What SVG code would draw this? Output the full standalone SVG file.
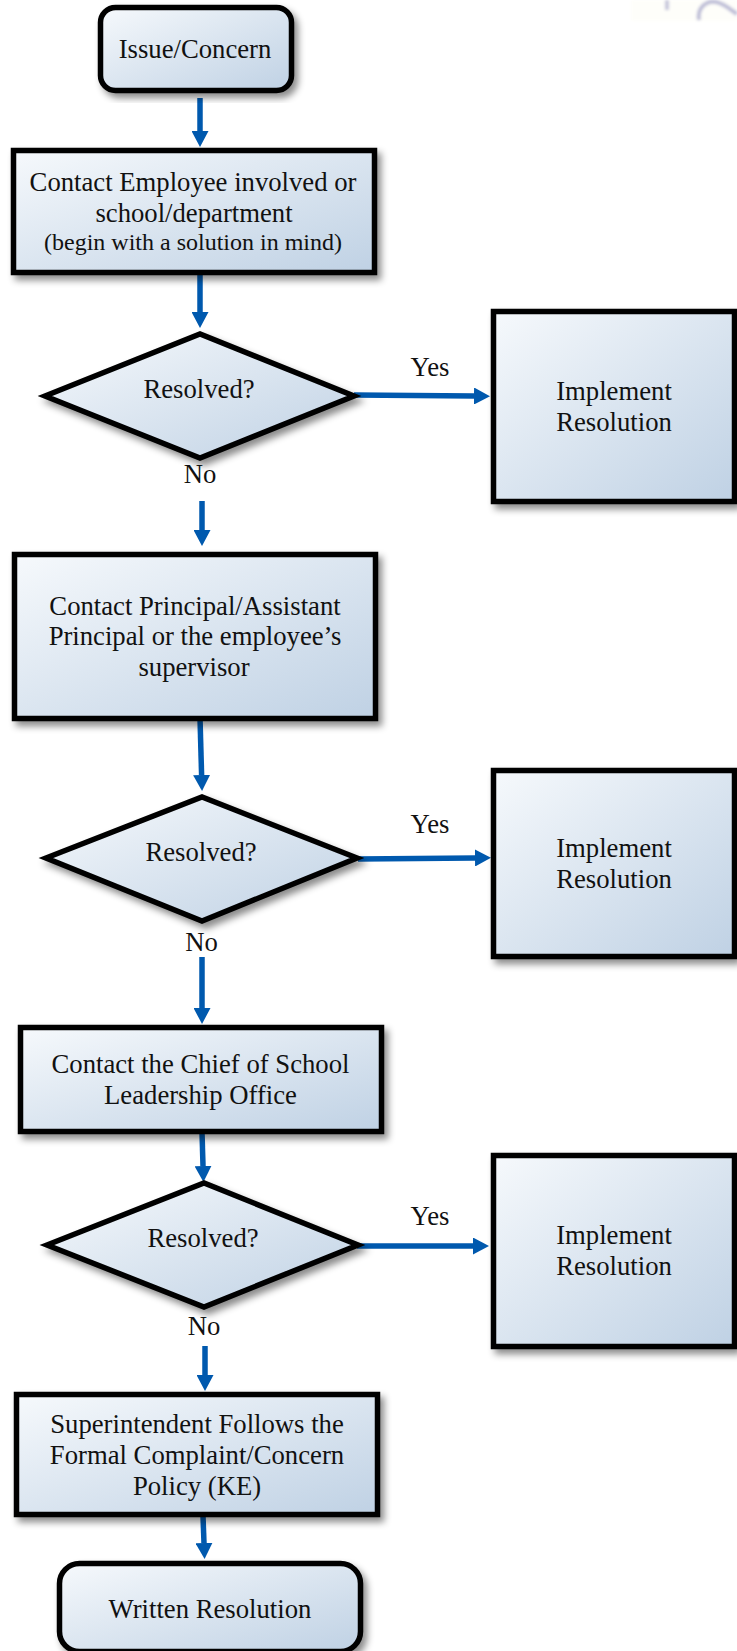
<svg xmlns="http://www.w3.org/2000/svg" width="737" height="1651" viewBox="0 0 737 1651">
<style>
.n{fill:url(#g);stroke:#000;stroke-width:5.500;stroke-miterlimit:6;filter:url(#s)}
.t{font-family:"Liberation Serif","Times New Roman",serif;font-size:26.700px;fill:#111;text-anchor:middle}
.sm{font-size:24px}
.c{fill:none;stroke:#0059ae;stroke-width:5.500;marker-end:url(#a)}
</style>
<defs>
<linearGradient id="g" x1="0" y1="0" x2="1" y2="1">
<stop offset="0" stop-color="#f6f9fc"/>
<stop offset="1" stop-color="#bfd1e4"/>
</linearGradient>
<filter id="s" x="-10%" y="-10%" width="125%" height="125%">
<feDropShadow dx="4" dy="5" stdDeviation="3.500" flood-color="#000" flood-opacity="0.450"/>
</filter>
<filter id="b"><feGaussianBlur stdDeviation="1.500"/></filter>
<marker id="a" markerUnits="userSpaceOnUse" markerWidth="16" markerHeight="17" refX="0" refY="8.500" orient="auto">
<path d="M0,0L16,8.500L0,17z" fill="#0059ae"/>
</marker>
</defs>
<rect width="737" height="1651" fill="#fff"/>
<g id="watermark" filter="url(#b)">
<rect x="631" y="0" width="106" height="21" fill="#fefefa"/>
<path d="M667,0V10" fill="none" stroke="#c4c4da" stroke-width="4"/>
<path d="M699,20C697,8 706,0 716,2C725,4 731,10 737,14" fill="none" stroke="#bcbcd6" stroke-width="4"/>
</g>
<g id="connectors">
<path class="c" d="M200,98V131"/>
<path class="c" d="M200,274V312"/>
<path class="c" d="M354,395L474,396"/>
<path class="c" d="M202,501V530"/>
<path class="c" d="M200,718L201.600,775"/>
<path class="c" d="M358,859L475,858"/>
<path class="c" d="M202,957V1008"/>
<path class="c" d="M202,1132L203,1166"/>
<path class="c" d="M357,1246H473"/>
<path class="c" d="M205,1346V1375"/>
<path class="c" d="M203,1516L204,1543"/>
</g>
<g id="issue"><rect class="n" x="100.500" y="7.500" width="191" height="83" rx="15"/><text class="t" x="195" y="58">Issue/Concern</text></g>
<g id="contact-employee"><rect class="n" x="13.500" y="150.500" width="361" height="122"/><text class="t" x="193" y="191">Contact Employee involved or</text><text class="t" x="194" y="222">school/department</text><text class="t sm" x="193" y="250">(begin with a solution in mind)</text></g>
<g id="resolved-1"><polygon class="n" points="45,396 200,334 354,396 200,458"/><text class="t" x="199" y="398">Resolved?</text></g>
<g id="implement-1"><rect class="n" x="493.500" y="311.500" width="241" height="190"/><text class="t" x="614" y="400">Implement</text><text class="t" x="614" y="431">Resolution</text></g>
<g id="contact-principal"><rect class="n" x="14.500" y="554.500" width="361" height="164"/><text class="t" x="195" y="615">Contact Principal/Assistant</text><text class="t" x="195" y="645">Principal or the employee’s</text><text class="t" x="194" y="676">supervisor</text></g>
<g id="resolved-2"><polygon class="n" points="46,858 202,797 357,858 202,921"/><text class="t" x="201" y="861">Resolved?</text></g>
<g id="implement-2"><rect class="n" x="493.500" y="770.500" width="241" height="186"/><text class="t" x="614" y="857">Implement</text><text class="t" x="614" y="888">Resolution</text></g>
<g id="contact-chief"><rect class="n" x="20.500" y="1027.500" width="361" height="104"/><text class="t" x="200.500" y="1073">Contact the Chief of School</text><text class="t" x="200.500" y="1104">Leadership Office</text></g>
<g id="resolved-3"><polygon class="n" points="47,1245 204,1183 358,1245 204,1307"/><text class="t" x="203" y="1247">Resolved?</text></g>
<g id="implement-3"><rect class="n" x="493.500" y="1155.500" width="241" height="191"/><text class="t" x="614" y="1244">Implement</text><text class="t" x="614" y="1275">Resolution</text></g>
<g id="superintendent"><rect class="n" x="16.500" y="1394.500" width="361" height="120"/><text class="t" x="197" y="1433">Superintendent Follows the</text><text class="t" x="197" y="1464">Formal Complaint/Concern</text><text class="t" x="197" y="1495">Policy (KE)</text></g>
<g id="written"><rect class="n" x="59.500" y="1563.500" width="301" height="88" rx="20"/><text class="t" x="210" y="1618">Written Resolution</text></g>
<g id="labels">
<text class="t" x="430" y="376">Yes</text><text class="t" x="200" y="483">No</text>
<text class="t" x="430" y="833">Yes</text><text class="t" x="201.500" y="951">No</text>
<text class="t" x="430" y="1225">Yes</text><text class="t" x="204" y="1335">No</text>
</g>
</svg>
